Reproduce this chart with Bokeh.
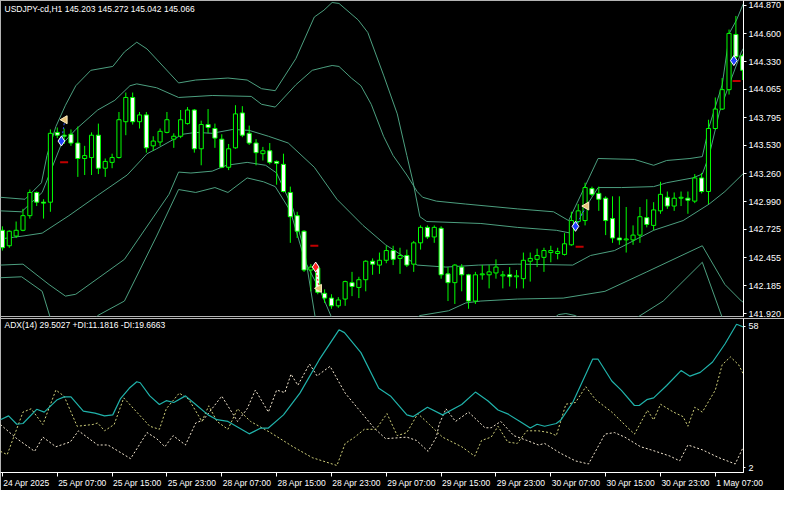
from bokeh.plotting import figure
from bokeh.layouts import column
from bokeh.models import (Range1d, FixedTicker, PrintfTickFormatter, Label, LinearAxis,
                          CustomJSTickFormatter, ColumnDataSource)
from bokeh.embed import file_html
from bokeh.resources import INLINE

NaN = float("nan")

# ---------------- data (H1 bars, index 0 = 24 Apr 2025 23:00) ----------------
open_ = [142.717, 142.569, 142.662, 142.717, 142.857, 143.079, 142.986, 142.986, 143.654, 143.627,
         143.636, 143.552, 143.404, 143.413, 143.627, 143.311, 143.367, 143.413, 143.756, 143.988,
         143.756, 143.821, 143.525, 143.562, 143.654, 143.589, 143.617, 143.738, 143.868, 143.497,
         143.729, 143.691, 143.589, 143.320, 143.506, 143.840, 143.645, 143.552, 143.450, 143.478,
         143.376, 143.348, 143.079, 142.857, 142.708, 142.337, 142.356, 142.114, 142.068, 141.994,
         142.059, 142.216, 142.170, 142.244, 142.421, 142.384, 142.430, 142.523, 142.448, 142.476,
         142.393, 142.597, 142.745, 142.653, 142.736, 142.300, 142.216, 142.365, 142.291, 142.040,
         142.291, 142.291, 142.309, 142.281, 142.291, 142.272, 142.254, 142.421, 142.439, 142.458,
         142.504, 142.495, 142.486, 142.578, 142.801, 142.810, 143.116, 143.070, 143.024, 142.829,
         142.643, 142.625, 142.625, 142.671, 142.838, 142.764, 142.903, 143.033, 142.949, 143.024,
         143.024, 142.996, 143.218, 143.088, 143.691, 143.877, 144.063, 144.591, 144.387]
high = [142.755, 142.717, 142.801, 142.922, 143.107, 143.088, 143.014, 143.682, 143.701, 143.691,
        143.682, 143.710, 143.525, 143.654, 143.738, 143.404, 143.450, 143.849, 144.035, 144.035,
        143.849, 143.849, 143.617, 143.691, 143.849, 143.645, 143.868, 143.896, 143.877, 143.766,
        143.877, 143.738, 143.636, 143.543, 143.914, 143.905, 143.719, 143.589, 143.515, 143.552,
        143.385, 143.450, 143.135, 142.894, 142.717, 142.393, 142.384, 142.152, 142.105, 142.077,
        142.235, 142.319, 142.272, 142.430, 142.448, 142.504, 142.569, 142.569, 142.550, 142.532,
        142.615, 142.764, 142.764, 142.764, 142.755, 142.365, 142.393, 142.393, 142.300, 142.319,
        142.384, 142.384, 142.439, 142.328, 142.365, 142.337, 142.504, 142.504, 142.541, 142.550,
        142.569, 142.550, 142.690, 142.894, 142.968, 143.172, 143.135, 143.135, 143.042, 143.042,
        143.042, 142.940, 142.764, 142.940, 143.014, 142.986, 143.181, 143.088, 143.079, 143.088,
        143.088, 143.255, 143.265, 143.775, 143.988, 144.174, 144.638, 144.768, 144.406]
low = [142.523, 142.550, 142.643, 142.708, 142.829, 142.949, 142.829, 142.894, 143.599, 143.543,
       143.525, 143.228, 143.246, 143.246, 143.255, 143.228, 143.311, 143.404, 143.627, 143.729,
       143.691, 143.460, 143.478, 143.525, 143.645, 143.506, 143.599, 143.729, 143.460, 143.339,
       143.645, 143.506, 143.311, 143.293, 143.497, 143.608, 143.534, 143.339, 143.385, 143.348,
       143.153, 143.079, 142.597, 142.643, 142.319, 142.133, 142.105, 142.022, 141.966, 141.975,
       141.994, 142.087, 142.068, 142.133, 142.291, 142.300, 142.402, 142.384, 142.300, 142.365,
       142.319, 142.532, 142.634, 142.597, 142.254, 142.040, 142.012, 142.133, 141.966, 142.012,
       142.244, 142.161, 142.254, 142.161, 142.179, 142.161, 142.161, 142.226, 142.365, 142.319,
       142.411, 142.439, 142.476, 142.569, 142.782, 142.764, 143.042, 142.903, 142.671, 142.597,
       142.578, 142.504, 142.578, 142.597, 142.745, 142.717, 142.875, 142.922, 142.903, 142.949,
       142.875, 142.977, 143.070, 142.968, 143.682, 143.868, 144.016, 144.359, 144.155]
close = [142.550, 142.708, 142.717, 142.857, 143.079, 142.986, 142.977, 143.645, 143.627, 143.617,
         143.552, 143.404, 143.432, 143.627, 143.311, 143.376, 143.413, 143.775, 143.988, 143.756,
         143.821, 143.506, 143.571, 143.664, 143.775, 143.617, 143.775, 143.868, 143.497, 143.729,
         143.701, 143.599, 143.320, 143.497, 143.831, 143.627, 143.552, 143.460, 143.478, 143.367,
         143.358, 143.088, 142.847, 142.708, 142.337, 142.365, 142.124, 142.068, 141.994, 142.050,
         142.226, 142.179, 142.244, 142.421, 142.393, 142.430, 142.523, 142.439, 142.476, 142.384,
         142.597, 142.745, 142.653, 142.745, 142.291, 142.216, 142.384, 142.291, 142.040, 142.291,
         142.300, 142.319, 142.365, 142.291, 142.272, 142.281, 142.430, 142.448, 142.476, 142.523,
         142.523, 142.513, 142.588, 142.810, 142.903, 143.126, 143.061, 143.014, 142.810, 142.643,
         142.625, 142.634, 142.671, 142.847, 142.773, 142.912, 143.061, 142.949, 143.024, 143.033,
         143.005, 143.218, 143.088, 143.691, 143.877, 144.063, 144.601, 144.378, 144.248]

# Bollinger-type band lines (bar index, price)
ua_x = [-0.3, 3.3, 5.7, 6.5, 7.8, 9.2, 10.7, 12.9, 16.1, 17.8, 19.6, 21.1, 25.7, 28.2, 32.9, 35.7,
        37.8, 39.8, 42.8, 45.5, 46.9, 48.1, 49.1, 51.9, 53.3, 55.6, 57.6, 59.0, 59.9, 60.9, 61.9,
        69.8, 75.1, 80.8, 82.9, 85.1, 86.9, 90.3, 95.0, 96.9, 100.7, 102.1, 103.1, 104.6, 106.0,
        107.8, 108.7]
ua_y = [143.033, 143.014, 143.172, 143.432, 143.710, 143.914, 144.100, 144.248, 144.285, 144.424,
        144.517, 144.452, 144.127, 144.155, 144.174, 144.155, 144.072, 144.053, 144.359, 144.758,
        144.823, 144.897, 144.888, 144.730, 144.610, 144.202, 143.831, 143.432, 143.181, 142.847,
        142.801, 142.782, 142.745, 142.717, 142.690, 142.940, 143.126, 143.126, 143.135, 143.172,
        143.218, 143.255, 143.432, 143.849, 144.109, 144.424, 144.526]
ub_x = [-0.3, 2.8, 5.8, 7.1, 8.5, 10.7, 13.9, 16.4, 18.6, 19.6, 22.5, 25.7, 30.6, 36.3, 37.8, 39.8,
        42.8, 45.2, 46.9, 48.1, 49.1, 50.9, 52.3, 53.8, 55.6, 57.0, 59.0, 60.5, 61.3, 63.3, 67.6,
        75.1, 80.4, 82.6, 85.1, 86.9, 92.2, 95.0, 96.9, 100.3, 102.1, 103.1, 105.0, 106.1, 107.1,
        108.1]
ub_y = [142.903, 142.894, 143.079, 143.293, 143.525, 143.682, 143.868, 143.961, 144.100, 144.118,
        144.081, 143.988, 144.007, 143.998, 143.923, 143.896, 144.109, 144.248, 144.276, 144.294,
        144.285, 144.174, 144.100, 143.923, 143.617, 143.432, 143.246, 143.088, 143.033, 142.996,
        142.968, 142.922, 142.894, 142.810, 143.153, 143.404, 143.395, 143.339, 143.385, 143.404,
        143.422, 143.710, 144.109, 144.610, 144.730, 144.888]
mid_x = [-0.3, 3.0, 5.8, 9.7, 13.9, 18.2, 21.1, 22.5, 26.3, 28.2, 30.6, 33.6, 36.0, 38.8, 41.7,
         45.5, 48.8, 52.6, 55.9, 60.5, 64.7, 69.4, 75.1, 83.2, 85.8, 89.3, 95.0, 99.3, 103.1,
         105.4, 108.3]
mid_y = [142.634, 142.662, 142.690, 142.857, 143.051, 143.246, 143.450, 143.497, 143.636, 143.654,
         143.645, 143.682, 143.673, 143.617, 143.552, 143.320, 143.014, 142.764, 142.578, 142.384,
         142.365, 142.384, 142.393, 142.384, 142.476, 142.523, 142.717, 142.810, 142.968, 143.088,
         143.274]
la_x = [-0.3, 3.0, 6.8, 9.2, 10.7, 17.8, 24.3, 25.7, 27.5, 30.6, 32.7, 35.7, 38.4, 40.0, 42.4,
        44.1, 45.7, NaN, 59.9, 60.9, 65.1, 67.6, 69.8, 75.1, 81.8, 87.9, 94.0, 102.1, 105.4,
        107.8, 108.7]
la_y = [142.384, 142.393, 142.198, 142.087, 142.105, 142.439, 143.061, 143.274, 143.265, 143.283,
        143.339, 143.367, 143.339, 143.265, 142.922, 142.504, 141.855, NaN, 141.855, 141.901,
        141.947, 142.022, 142.040, 142.059, 142.068, 142.133, 142.319, 142.569, 142.198, 142.040,
        142.003]
lb_x = [-0.3, 2.8, 5.8, 7.1, NaN, 13.2, 13.9, 17.8, 22.5, 25.7, 28.2, 31.0, 32.9, 35.7, 38.1,
        39.8, 42.0, 44.2, 46.4, 48.2, NaN, 80.1, 81.1, 82.2, 83.6, 84.6, NaN, 91.9, 92.6, 96.4,
        102.1, 105.0, 105.4]
lb_y = [142.263, 142.272, 142.133, 141.855, NaN, 141.855, 141.901, 142.040, 142.662, 143.107,
        143.079, 143.126, 143.079, 143.218, 143.181, 143.135, 142.903, 142.411, 142.133, 141.855,
        NaN, 141.855, 141.910, 141.920, 141.901, 141.855, NaN, 141.855, 141.883, 142.040, 142.411,
        141.883, 141.808]

# trade marks
buy_open_x = [8.6, 83.6, 106.7]
buy_open_y = [143.571, 142.755, 144.341]
buy_close_x = [9.1, 85.2]
buy_close_y = [143.775, 142.949]
sell_open_x = [45.7]
sell_open_y = [142.365]
sell_close_x = [46.2]
sell_close_y = [142.161]
stop_x = [9.0, 45.5, 84.2, 107.1]
stop_y = [143.367, 142.569, 142.560, 144.146]

# ADX(14) panel
adx_x = [-0.3, 0.9, 2.1, 3.0, 5.0, 6.1, 8.0, 9.0, 10.0, 11.8, 13.5, 14.9, 16.1, 17.2, 18.5, 19.6,
         20.1, 21.5, 22.9, 23.9, 25.0, 26.7, 28.2, 30.0, 31.3, 32.9, 36.0, 37.7, 38.8, 41.0, 43.4,
         46.2, 49.1, 49.9, 52.3, 54.9, 56.6, 59.0, 59.9, 62.0, 64.2, 67.0, 69.0, 70.8, 72.3, 73.7,
         75.5, 77.0, 78.0, 79.1, 80.8, 81.5, 83.2, 85.1, 86.1, 86.9, 88.9, 90.3, 92.2, 92.9, 94.0,
         95.0, 96.9, 99.0, 100.3, 101.8, 103.6, 105.4, 107.1, 108.1]
adx_v = [21.0, 22.5, 19.2, 19.5, 25.1, 24.0, 28.9, 30.0, 30.0, 24.4, 23.6, 22.5, 22.9, 29.2, 33.4,
         36.0, 35.6, 30.4, 27.0, 28.5, 27.8, 30.4, 27.0, 22.9, 21.0, 20.3, 15.4, 17.7, 17.7, 22.9,
         31.5, 44.6, 56.5, 55.4, 47.5, 33.4, 30.4, 22.9, 22.2, 25.9, 22.9, 27.0, 31.9, 28.5, 24.8,
         23.3, 20.3, 17.7, 19.2, 18.4, 19.5, 21.0, 27.8, 39.0, 44.9, 44.9, 36.3, 32.6, 26.6, 26.6,
         28.9, 29.6, 34.5, 40.4, 38.2, 39.7, 43.8, 50.9, 58.7, 57.6]
pdi_x = [-0.3, 0.7, 3.0, 4.2, 5.9, 7.8, 9.0, 10.9, 13.2, 13.9, 14.9, 16.3, 17.7, 19.6, 21.5, 22.9,
         23.9, 25.8, 27.2, 29.1, 30.1, 31.3, 32.9, 34.3, 36.2, 39.1, 42.4, 45.2, 48.8, 50.0, 51.4,
         52.8, 54.5, 56.1, 57.6, 59.0, 60.6, 62.3, 64.2, 67.0, 68.9, 69.9, 71.3, 72.3, 73.7, 75.1,
         76.5, 78.2, 79.8, 80.8, 82.2, 83.6, 85.1, 86.5, 88.9, 90.3, 92.2, 94.1, 95.0, 96.0, 97.9,
         99.3, 100.0, 101.0, 102.1, 104.0, 105.0, 106.2, 107.4, 108.1]
pdi_v = [8.5, 7.2, 24.0, 25.3, 19.1, 32.7, 30.3, 18.4, 19.1, 19.7, 16.6, 19.1, 29.6, 24.0, 18.4,
         17.2, 25.3, 31.5, 29.0, 20.3, 26.5, 20.3, 17.2, 25.3, 20.3, 15.9, 10.3, 6.0, 2.9, 11.6,
         14.1, 17.2, 17.2, 23.4, 14.7, 15.9, 23.4, 19.1, 14.1, 10.3, 6.6, 12.8, 14.1, 18.4, 12.2,
         11.6, 16.6, 16.6, 15.9, 14.7, 27.1, 27.8, 34.0, 29.0, 24.0, 20.3, 15.3, 24.7, 20.9, 27.1,
         24.0, 22.2, 18.4, 25.9, 24.0, 32.7, 42.7, 45.8, 42.7, 39.0]
mdi_x = [-0.3, 2.1, 4.7, 5.9, 7.8, 9.9, 11.1, 13.9, 15.4, 18.7, 21.1, 22.5, 23.7, 24.9, 26.7, 28.2,
         29.3, 32.0, 34.3, 35.7, 36.9, 38.8, 40.0, 41.2, 42.1, 43.1, 44.8, 45.9, 47.8, 50.0, 51.9,
         54.2, 55.9, 59.0, 60.4, 62.1, 63.3, 63.7, 64.7, 66.1, 68.0, 70.4, 71.3, 72.7, 74.6, 76.5,
         78.2, 79.1, 81.3, 83.6, 85.5, 87.9, 89.3, 90.8, 93.1, 94.6, 97.4, 98.8, 100.0, 102.1,
         104.5, 106.9, 108.1]
mdi_v = [19.1, 13.5, 8.5, 14.1, 10.3, 12.2, 16.6, 11.0, 11.0, 5.6, 15.9, 13.5, 10.3, 14.7, 11.0,
         19.7, 20.9, 30.3, 20.3, 25.3, 32.7, 24.0, 32.7, 31.7, 39.0, 34.6, 43.0, 38.3, 42.1, 31.5,
         25.3, 17.8, 13.5, 14.1, 12.8, 8.5, 14.1, 19.1, 25.3, 20.3, 24.0, 17.8, 17.8, 20.3, 14.7,
         12.8, 11.0, 11.6, 7.9, 4.7, 3.5, 15.3, 15.9, 14.1, 10.3, 9.1, 6.6, 4.7, 11.0, 9.1, 6.0,
         3.5, 10.3]

price_ticks = [141.920, 142.185, 142.455, 142.725, 142.990, 143.260, 143.530, 143.795,
               144.065, 144.330, 144.600, 144.870]
adx_ticks = [2, 58]
time_tick_bars = [0, 8, 16, 24, 32, 40, 48, 56, 64, 72, 80, 88, 96, 104]
time_tick_labels = ["24 Apr 2025", "25 Apr 07:00", "25 Apr 15:00", "25 Apr 23:00",
                    "28 Apr 07:00", "28 Apr 15:00", "28 Apr 23:00", "29 Apr 07:00",
                    "29 Apr 15:00", "29 Apr 23:00", "30 Apr 07:00", "30 Apr 15:00",
                    "30 Apr 23:00", "1 May 07:00"]
price_title = "USDJPY-cd,H1  145.203 145.272 145.042 145.066"
adx_title = "ADX(14) 29.5027 +DI:11.1816 -DI:19.6663"

# ---------------- styling ----------------
BG = "black"
FONT = "Liberation Sans"
FSIZE = 8.5
CANDLE = "#00ff00"
BAND = "#4c9f7f"
FRAME = "#b4b4b4"
RIGHT = 38
W = 784
X0, X1 = -0.28, 108.11

xr = Range1d(X0, X1)

p1 = figure(width=W, height=318, x_range=xr, y_range=Range1d(141.892, 144.916),
            x_axis_location=None, y_axis_location="right", toolbar_location=None,
            output_backend="svg", min_border_left=0, min_border_top=0,
            min_border_bottom=2, min_border_right=RIGHT,
            background_fill_color=BG, border_fill_color=BG, outline_line_color=FRAME)
p1.grid.visible = False

ax = p1.yaxis[0]
ax.ticker = FixedTicker(ticks=price_ticks)
ax.formatter = PrintfTickFormatter(format="%.3f")
ax.axis_line_color = "white"
ax.major_tick_line_color = "white"
ax.major_tick_out = 3
ax.major_tick_in = 0
ax.minor_tick_line_color = None
ax.major_label_text_color = "white"
ax.major_label_text_font = FONT
ax.major_label_text_font_size = "9px"
ax.major_label_standoff = 2

# bands
for bx, by in ((ua_x, ua_y), (ub_x, ub_y), (mid_x, mid_y), (la_x, la_y), (lb_x, lb_y)):
    p1.line(bx, by, line_color=BAND, line_width=1)

# candles
xs = list(range(len(open_)))
csrc = ColumnDataSource(dict(
    x=xs, h=high, l=low,
    top=[max(o, c) for o, c in zip(open_, close)],
    bot=[min(o, c) for o, c in zip(open_, close)],
    fill=["black" if c >= o else "white" for o, c in zip(open_, close)],
))
p1.segment(x0="x", y0="h", x1="x", y1="l", source=csrc, line_color=CANDLE, line_width=1)
p1.vbar(x="x", width=0.6, top="top", bottom="bot", source=csrc,
        fill_color="fill", line_color=CANDLE, line_width=1)

# trade marks
p1.segment(x0=buy_open_x[:2], y0=buy_open_y[:2], x1=buy_close_x, y1=buy_close_y,
           line_color="#3a5cff", line_dash="2 2", line_width=1)
p1.segment(x0=sell_open_x, y0=sell_open_y, x1=sell_close_x, y1=sell_close_y,
           line_color="#ff3030", line_dash="2 2", line_width=1)
p1.scatter(stop_x, stop_y, marker="dash", size=8, line_color="#c00000", line_width=2)
p1.scatter(buy_close_x + sell_close_x, buy_close_y + sell_close_y, marker="triangle",
           angle=1.5708, size=8, fill_color="#e6c27a", line_color="#fff0c0", line_width=1)
p1.scatter(buy_open_x, buy_open_y, marker="diamond", size=10,
           fill_color="#2040ff", line_color="white", line_width=1)
p1.scatter(sell_open_x, sell_open_y, marker="diamond", size=10,
           fill_color="#ff2020", line_color="white", line_width=1)

p1.add_layout(Label(x=4, y=313, x_units="screen", y_units="screen", text=price_title,
                    text_color="white", text_font=FONT, text_font_size="8.5px",
                    text_baseline="top"))

# ---------------- ADX panel ----------------
p2 = figure(width=W, height=172, x_range=xr, y_range=Range1d(0.13, 60.98),
            x_axis_location="below", y_axis_location="right", toolbar_location=None,
            output_backend="svg", min_border_left=0, min_border_top=0,
            min_border_bottom=16, min_border_right=RIGHT,
            background_fill_color=BG, border_fill_color=BG, outline_line_color=FRAME)
p2.grid.visible = False

ay = p2.yaxis[0]
ay.ticker = FixedTicker(ticks=adx_ticks)
ay.axis_line_color = "white"
ay.major_tick_line_color = "white"
ay.major_tick_out = 2
ay.major_tick_in = 0
ay.minor_tick_line_color = None
ay.major_label_text_color = "white"
ay.major_label_text_font = FONT
ay.major_label_text_font_size = "9px"
ay.major_label_standoff = 3

# axis 1: tick marks at the bar of each time label
bx_ = p2.xaxis[0]
bx_.ticker = FixedTicker(ticks=time_tick_bars)
bx_.major_label_overrides = {t: "" for t in time_tick_bars}
bx_.major_label_text_font_size = "0px"
bx_.axis_line_color = "white"
bx_.major_tick_line_color = "white"
bx_.major_tick_out = 4
bx_.major_tick_in = 0
bx_.minor_tick_line_color = None
bx_.major_label_standoff = 0

# axis 2: the time labels, left-aligned on their tick (MT4 style)
CHARW = {"0": .556, "1": .556, "2": .556, "3": .556, "4": .556, "5": .556, "6": .556,
         "7": .556, "8": .556, "9": .556, " ": .278, ":": .278, "A": .667, "p": .556,
         "r": .333, "M": .833, "a": .556, "y": .5}
px_per_bar = (W - RIGHT) / (X1 - X0)
label_pos = [t + (sum(CHARW.get(ch, .556) for ch in s) * FSIZE / 2 + 1) / px_per_bar
             for t, s in zip(time_tick_bars, time_tick_labels)]
lab_axis = LinearAxis(ticker=FixedTicker(ticks=label_pos),
                      formatter=CustomJSTickFormatter(args=dict(labels=time_tick_labels),
                                                      code="return labels[index]"))
lab_axis.axis_line_color = None
lab_axis.major_tick_line_color = None
lab_axis.minor_tick_line_color = None
lab_axis.major_tick_out = 0
lab_axis.major_tick_in = 0
lab_axis.major_label_standoff = 1
lab_axis.major_label_text_color = "white"
lab_axis.major_label_text_font = FONT
lab_axis.major_label_text_font_size = "8.5px"
p2.add_layout(lab_axis, "below")

p2.line(mdi_x, mdi_v, line_color="#f2e6cf", line_dash="2 2", line_width=1)
p2.line(pdi_x, pdi_v, line_color="#cfcf7a", line_dash="2 2", line_width=1)
p2.line(adx_x, adx_v, line_color="#20b2aa", line_width=1.2)

p2.add_layout(Label(x=4, y=153, x_units="screen", y_units="screen", text=adx_title,
                    text_color="white", text_font=FONT, text_font_size="8.5px",
                    text_baseline="top"))

layout = column(p1, p2, spacing=0)
open("out.html", "w").write(file_html(layout, INLINE))
